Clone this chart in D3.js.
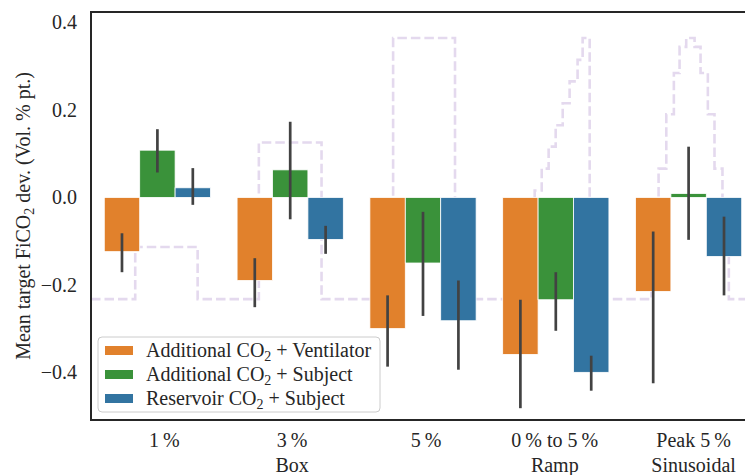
<!DOCTYPE html>
<html lang="en">
<head>
<meta charset="utf-8">
<title>Mean target FiCO2 deviation</title>
<script src="https://cdn.jsdelivr.net/npm/d3@7"></script>
<style>
  body { margin: 0; background: #fff; }
  text { font-family: "Liberation Serif", "Times New Roman", serif; fill: #262626; }
</style>
</head>
<body>
<svg id="chart" width="745" height="475"></svg>
<script>
// categories and their two-line tick labels
var groups = ["box1", "box3", "box5", "ramp", "sine"];
var tickTop = ["1\u2009%", "3\u2009%", "5\u2009%", "0\u2009% to 5\u2009%", "Peak 5\u2009%"];
var tickBottom = ["", "Box", "", "Ramp", "Sinusoidal"];
var tickShift = [7, 2, 3, -1, 5];   // small nudges seen in the figure

// series (hue) names, split around the CO2 subscript
var seriesPre = ["Additional CO", "Additional CO", "Reservoir CO"];
var seriesPost = [" + Ventilator", " + Subject", " + Subject"];
var seriesColors = ["#e1812c", "#3a923a", "#3274a1"];

// means per group
var ventMean = [-0.124, -0.190, -0.300, -0.359, -0.215];
var subjMean = [0.108, 0.063, -0.150, -0.234, 0.009];
var resvMean = [0.022, -0.096, -0.282, -0.400, -0.135];

// confidence intervals [low, high]
var ventCI = [[-0.171, -0.082], [-0.251, -0.139], [-0.387, -0.224], [-0.482, -0.234], [-0.425, -0.078]];
var subjCI = [[0.057, 0.156], [-0.050, 0.173], [-0.271, -0.033], [-0.305, -0.171], [-0.097, 0.116]];
var resvCI = [[-0.017, 0.067], [-0.129, -0.065], [-0.394, -0.190], [-0.442, -0.362], [-0.224, -0.044]];

// target CO2 profile (Vol. %), step positions in category units
var profileT = [-0.5, -0.167, 0.303, 0.764, 1.236, 1.775, 2.241, 2.630, 2.683, 2.735, 2.788, 2.841,
                2.894, 2.946, 2.999, 3.052, 3.104, 3.164, 3.202, 3.255, 3.721, 3.774, 3.832, 3.889,
                3.932, 3.982, 4.045, 4.090, 4.145, 4.195, 4.255, 4.303, 4.5];
var profilePct = [0, 1, 0, 3, 0, 5, 0, 0.42, 0.83, 1.25, 1.67, 2.08,
                  2.5, 2.92, 3.33, 3.75, 4.17, 4.58, 5, 0, 1.29, 2.5, 3.54, 4.33,
                  4.83, 5, 4.83, 4.33, 3.54, 2.5, 1.29, 0, 0];

var yTicks = [-0.4, -0.2, 0.0, 0.2, 0.4];

var means = [ventMean, subjMean, resvMean];
var cis = [ventCI, subjCI, resvCI];

var svg = d3.select("#chart");
var plotL = 91, plotT = 12, plotR = 755, plotB = 420;

var xScale = d3.scaleBand().domain(groups).range([plotL, plotR]).padding(0);
var hueScale = d3.scaleBand().domain([0, 1, 2])
  .range([xScale.bandwidth() * 0.1, xScale.bandwidth() * 0.9]).padding(0);
var yScale = d3.scaleLinear().domain([-0.509, 0.424]).range([plotB, plotT]);
var tScale = d3.scaleLinear().domain([-0.5, 4.5]).range([plotL, plotR]);
var pctScale = d3.scaleLinear().domain([0, 5]).range([-0.2327, 0.3646]);

svg.append("defs").append("clipPath").attr("id", "plotclip")
  .append("rect").attr("x", plotL).attr("y", plotT)
  .attr("width", plotR - plotL).attr("height", plotB - plotT);

var plot = svg.append("g").attr("clip-path", "url(#plotclip)");

// target profile (drawn behind the bars)
var profile = profileT.map(function(t, i) { return [t, profilePct[i]]; });
var line = d3.line()
  .x(function(d) { return tScale(d[0]); })
  .y(function(d) { return yScale(pctScale(d[1])); })
  .curve(d3.curveStepAfter);
plot.append("path")
  .datum(profile)
  .attr("d", line)
  .attr("fill", "none")
  .attr("stroke", "#e4d9ee")
  .attr("stroke-width", 2.6)
  .attr("stroke-dasharray", "9.5,4");

// bars
var barData = [];
means.forEach(function(arr, s) {
  arr.forEach(function(v, g) {
    barData.push({ s: s, g: groups[g], v: v, ci: cis[s][g] });
  });
});

plot.selectAll("rect.bar")
  .data(barData)
  .enter()
  .append("rect")
  .attr("class", "bar")
  .attr("x", function(d) { return xScale(d.g) + hueScale(d.s); })
  .attr("width", hueScale.bandwidth())
  .attr("y", function(d) { return yScale(Math.max(0, d.v)); })
  .attr("height", function(d) { return Math.abs(yScale(d.v) - yScale(0)); })
  .attr("fill", function(d) { return seriesColors[d.s]; })
  .attr("stroke", "#ffffff")
  .attr("stroke-width", 0.8);

// error bars
plot.selectAll("line.err")
  .data(barData)
  .enter()
  .append("line")
  .attr("class", "err")
  .attr("x1", function(d) { return xScale(d.g) + hueScale(d.s) + hueScale.bandwidth() / 2; })
  .attr("x2", function(d) { return xScale(d.g) + hueScale(d.s) + hueScale.bandwidth() / 2; })
  .attr("y1", function(d) { return yScale(d.ci[0]); })
  .attr("y2", function(d) { return yScale(d.ci[1]); })
  .attr("stroke", "#424242")
  .attr("stroke-width", 2.7);

// spines
svg.append("rect")
  .attr("x", plotL).attr("y", plotT)
  .attr("width", plotR - plotL).attr("height", plotB - plotT)
  .attr("fill", "none")
  .attr("stroke", "#262626")
  .attr("stroke-width", 2);

// y tick labels (no tick marks)
var fmt = d3.format(".1f");
svg.selectAll("text.ytick")
  .data(yTicks)
  .enter()
  .append("text")
  .attr("class", "ytick")
  .attr("x", 77)
  .attr("y", function(d) { return yScale(d); })
  .attr("dy", "0.35em")
  .attr("text-anchor", "end")
  .attr("font-size", 20)
  .text(function(d) { return fmt(d); });

// y label with subscript
var ylab = svg.append("text")
  .attr("transform", "translate(30," + ((plotT + plotB) / 2) + ") rotate(-90)")
  .attr("text-anchor", "middle")
  .attr("font-size", 20);
ylab.append("tspan").text("Mean target FiCO");
ylab.append("tspan").attr("dy", 4).attr("font-size", 14).text("2");
ylab.append("tspan").attr("dy", -4).text(" dev. (Vol.\u00a0%\u00a0pt.)");

// x tick labels
svg.selectAll("text.xtop")
  .data(groups)
  .enter()
  .append("text")
  .attr("class", "xtop")
  .attr("x", function(d, i) { return xScale(d) + xScale.bandwidth() / 2 + tickShift[i]; })
  .attr("y", 447)
  .attr("text-anchor", "middle")
  .attr("font-size", 20)
  .text(function(d, i) { return tickTop[i]; });

svg.selectAll("text.xbot")
  .data(groups)
  .enter()
  .append("text")
  .attr("class", "xbot")
  .attr("x", function(d, i) { return xScale(d) + xScale.bandwidth() / 2 + tickShift[i]; })
  .attr("y", 472)
  .attr("text-anchor", "middle")
  .attr("font-size", 20)
  .text(function(d, i) { return tickBottom[i]; });

// legend
var legend = svg.append("g").attr("transform", "translate(98,337)");
legend.append("rect")
  .attr("width", 282).attr("height", 75)
  .attr("rx", 4).attr("ry", 4)
  .attr("fill", "#ffffff").attr("fill-opacity", 0.8)
  .attr("stroke", "#cccccc").attr("stroke-width", 1);

var rows = legend.selectAll("g.row")
  .data(seriesPre)
  .enter()
  .append("g")
  .attr("class", "row")
  .attr("transform", function(d, i) { return "translate(0," + (13.5 + i * 24) + ")"; });

rows.append("rect")
  .attr("x", 7).attr("y", -4.5)
  .attr("width", 28).attr("height", 9)
  .attr("fill", function(d, i) { return seriesColors[i]; });

var lt = rows.append("text")
  .attr("x", 48).attr("y", 6.5)
  .attr("font-size", 20);
lt.append("tspan").text(function(d) { return d; });
lt.append("tspan").attr("dy", 4).attr("font-size", 14).text("2");
lt.append("tspan").attr("dy", -4).text(function(d, i) { return seriesPost[i]; });
</script>
</body>
</html>
